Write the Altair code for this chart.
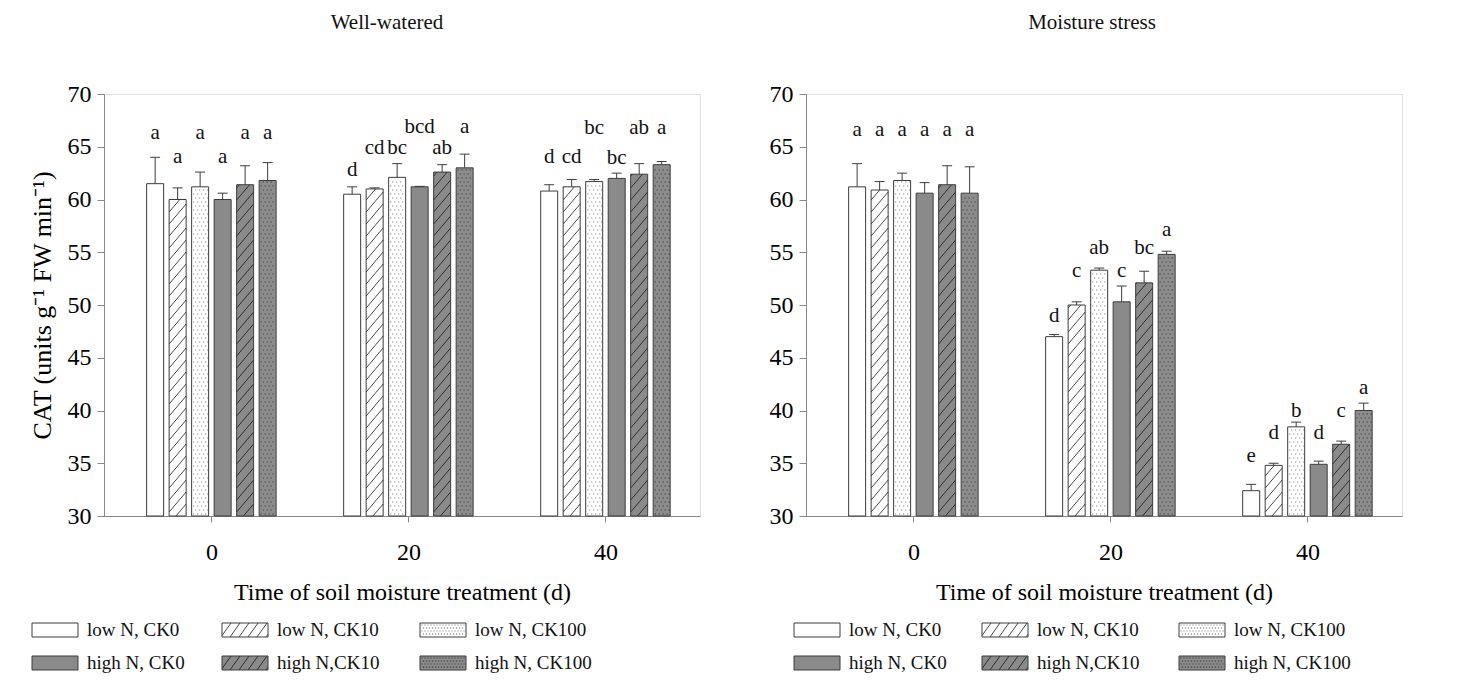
import altair as alt
import pandas as pd
import numpy as np

# ---------------- data ----------------
times = [0, 20, 40]
treatments = ["low N, CK0", "low N, CK10", "low N, CK100",
              "high N, CK0", "high N,CK10", "high N, CK100"]

# Well-watered: means and SE (upper error bar) per time
ww_mean_0 = [61.5, 60.0, 61.2, 60.0, 61.4, 61.8]
ww_se_0 = [2.5, 1.1, 1.4, 0.6, 1.8, 1.7]
ww_mean_20 = [60.5, 61.0, 62.1, 61.2, 62.6, 63.0]
ww_se_20 = [0.7, 0.1, 1.3, 0.05, 0.7, 1.3]
ww_mean_40 = [60.8, 61.2, 61.7, 62.0, 62.4, 63.3]
ww_se_40 = [0.6, 0.7, 0.2, 0.5, 1.0, 0.3]
ww_letters = [["a", "a", "a", "a", "a", "a"],
              ["d", "cd", "bc", "bcd", "ab", "a"],
              ["d", "cd", "bc", "bc", "ab", "a"]]
ww_letter_y = [[65.7, 63.5, 65.7, 63.5, 65.7, 65.7],
               [62.2, 64.3, 64.3, 66.3, 64.3, 66.3],
               [63.5, 63.5, 66.2, 63.4, 66.2, 66.2]]

# Moisture stress
ms_mean_0 = [61.2, 60.9, 61.8, 60.6, 61.4, 60.6]
ms_se_0 = [2.2, 0.8, 0.7, 1.0, 1.8, 2.5]
ms_mean_20 = [47.0, 50.0, 53.3, 50.3, 52.1, 54.8]
ms_se_20 = [0.2, 0.3, 0.2, 1.5, 1.1, 0.3]
ms_mean_40 = [32.4, 34.8, 38.45, 34.9, 36.8, 40.0]
ms_se_40 = [0.6, 0.2, 0.45, 0.3, 0.3, 0.7]
ms_letters = [["a", "a", "a", "a", "a", "a"],
              ["d", "c", "ab", "c", "bc", "a"],
              ["e", "d", "b", "d", "c", "a"]]
ms_letter_y = [[66.0] * 6,
               [48.4, 52.7, 54.8, 52.7, 54.8, 56.5],
               [35.1, 37.3, 39.4, 37.3, 39.4, 41.6]]

# ---------------- layout / style ----------------
W, H = 596, 422
XMIN, XMAX = -10.9, 49.6
YMIN, YMAX = 30, 70
PX_X = W / (XMAX - XMIN)
PX_Y = H / (YMAX - YMIN)
PITCH = 22.5 / PX_X          # distance between bars inside a group (data units)
HALF = 8.5 / PX_X            # half bar width (data units)
FONT = "Liberation Serif"
DARK = "#3c3c3c"
GRAY = "#8a8a8a"
GRAY2 = "#8c8c8c"
fills = ["#ffffff", "#ffffff", "#ffffff", GRAY, GRAY, GRAY2]
pattern = ["none", "hatch", "dots", "none", "hatch", "dots"]
pat_color = [None, "#4a4a4a", "#8a8a8a", None, "#2e2e2e", "#3a3a3a"]


def build(means, ses, letters, letter_y):
    rows = []
    for g, t in enumerate(times):
        for i, tr in enumerate(treatments):
            xc = t + (i - 2.5) * PITCH
            rows.append(dict(time=t, idx=i, treatment=tr, mean=means[g][i],
                             top=means[g][i] + ses[g][i], xc=xc,
                             xl=xc - HALF, xr=xc + HALF, base=YMIN,
                             letter=letters[g][i], ly=letter_y[g][i]))
    return pd.DataFrame(rows)


def hatch_rows(df):
    out = []
    rise = 20 / PX_Y
    step = 12 / PX_Y
    for _, r in df.iterrows():
        if pattern[r.idx] != "hatch":
            continue
        y0 = YMIN - rise
        while y0 < r["mean"]:
            tl = max(0.0, (YMIN - y0) / rise)
            th = min(1.0, (r["mean"] - y0) / rise)
            if th > tl:
                out.append(dict(x=r.xl + tl * (r.xr - r.xl), x2=r.xl + th * (r.xr - r.xl),
                                y=y0 + tl * rise, y2=y0 + th * rise, c=pat_color[r.idx]))
            y0 += step
    return pd.DataFrame(out)


def dot_rows(df):
    out = []
    dy = 4 / PX_Y
    dx = 4 / PX_X
    for _, r in df.iterrows():
        if pattern[r.idx] != "dots":
            continue
        y = YMIN + dy / 2
        k = 0
        while y < r["mean"] - dy / 3:
            off = (dx / 2) if k % 2 else 0
            x = r.xl + dx / 2 + off
            while x < r.xr - dx / 4:
                out.append(dict(x=x, y=y, c=pat_color[r.idx]))
                x += dx
            y += dy
            k += 1
    return pd.DataFrame(out)


def legend_layers(x0s, y0s, tx_off):
    # legend items placed in pixel space (scale=None), two rows of three
    items, lh, ld = [], [], []
    sw, sh = 46, 14
    for i, tr in enumerate(treatments):
        col, row = i % 3, i // 3
        x0, y0 = x0s[col], y0s[row]
        items.append(dict(x=x0, x2=x0 + sw, y=y0 - sh / 2, y2=y0 + sh / 2,
                          f=fills[i], tx=x0 + sw + tx_off, label=tr))
        if pattern[i] == "hatch":
            run = 10
            xs = x0 - run
            while xs < x0 + sw:
                tl = max(0.0, (x0 - xs) / run)
                th = min(1.0, (x0 + sw - xs) / run)
                if th > tl:
                    lh.append(dict(x=xs + tl * run, x2=xs + th * run,
                                   y=y0 + sh / 2 - tl * sh, y2=y0 + sh / 2 - th * sh,
                                   c=pat_color[i]))
                xs += 9
        if pattern[i] == "dots":
            yy = y0 - sh / 2 + 2
            k = 0
            while yy < y0 + sh / 2 - 1:
                xx = x0 + 2 + (1.5 if k % 2 else 0)
                while xx < x0 + sw - 1:
                    ld.append(dict(x=xx, y=yy, c=pat_color[i]))
                    xx += 3
                yy += 3
                k += 1
    it = pd.DataFrame(items)
    base = alt.Chart(it)
    fill_l = base.mark_rect(stroke=None).encode(
        x=alt.X("x:Q", scale=None, axis=None), x2="x2:Q",
        y=alt.Y("y:Q", scale=None, axis=None), y2="y2:Q",
        fill=alt.Fill("f:N", scale=None))
    hl = alt.Chart(pd.DataFrame(lh)).mark_rule(strokeWidth=1).encode(
        x=alt.X("x:Q", scale=None, axis=None), x2="x2:Q",
        y=alt.Y("y:Q", scale=None, axis=None), y2="y2:Q",
        color=alt.Color("c:N", scale=None))
    dl = alt.Chart(pd.DataFrame(ld)).mark_square(size=1.5, opacity=1).encode(
        x=alt.X("x:Q", scale=None, axis=None),
        y=alt.Y("y:Q", scale=None, axis=None),
        color=alt.Color("c:N", scale=None))
    outline = base.mark_rect(fill=None, stroke=DARK, strokeWidth=1).encode(
        x=alt.X("x:Q", scale=None, axis=None), x2="x2:Q",
        y=alt.Y("y:Q", scale=None, axis=None), y2="y2:Q")
    txt = base.mark_text(align="left", baseline="middle", font=FONT, fontSize=19,
                         color="#111").encode(
        x=alt.X("tx:Q", scale=None, axis=None),
        y=alt.Y("y:Q", scale=None, axis=None),
        yOffset=alt.value(7), text="label:N")
    return alt.layer(fill_l, hl, dl, outline, txt)


def panel(df, title, ytitle, leg_x, title_dx):
    xs = alt.Scale(domain=[XMIN, XMAX], nice=False, zero=False)
    ys = alt.Scale(domain=[YMIN, YMAX], nice=False, zero=False)
    xaxis = alt.Axis(values=times, grid=False, tickSize=6, labelFontSize=24,
                     titleFontSize=24, labelPadding=18, titlePadding=16,
                     titleFontWeight="normal", labelFont=FONT, titleFont=FONT,
                     title="Time of soil moisture treatment (d)", format="d")
    yaxis = alt.Axis(values=list(range(30, 71, 5)), grid=False, tickSize=7,
                     labelFontSize=24, titleFontSize=26, labelPadding=6,
                     titleFontWeight="normal", labelFont=FONT, titleFont=FONT,
                     titlePadding=12, title=ytitle if ytitle else None)
    base = alt.Chart(df)
    bars = base.mark_rect(stroke=None).encode(
        x=alt.X("xl:Q", scale=xs, axis=xaxis), x2="xr:Q",
        y=alt.Y("base:Q", scale=ys, axis=yaxis), y2="mean:Q",
        fill=alt.Fill("treatment:N", scale=alt.Scale(domain=treatments, range=fills),
                      legend=None))
    hatch = alt.Chart(hatch_rows(df)).mark_rule(strokeWidth=1).encode(
        x=alt.X("x:Q", scale=xs), x2="x2:Q",
        y=alt.Y("y:Q", scale=ys), y2="y2:Q",
        color=alt.Color("c:N", scale=None))
    dots = alt.Chart(dot_rows(df)).mark_square(size=1.5, opacity=1).encode(
        x=alt.X("x:Q", scale=xs), y=alt.Y("y:Q", scale=ys),
        color=alt.Color("c:N", scale=None))
    outline = base.mark_rect(fill=None, stroke=DARK, strokeWidth=1).encode(
        x=alt.X("xl:Q", scale=xs), x2="xr:Q",
        y=alt.Y("base:Q", scale=ys), y2="mean:Q")
    err = base.mark_rule(color=DARK, strokeWidth=1).encode(
        x=alt.X("xc:Q", scale=xs), y=alt.Y("mean:Q", scale=ys), y2="top:Q")
    cap = base.mark_tick(orient="horizontal", size=10, thickness=1, color=DARK,
                         opacity=1).encode(
        x=alt.X("xc:Q", scale=xs), y=alt.Y("top:Q", scale=ys))
    letters = base.mark_text(font=FONT, fontSize=21, baseline="alphabetic",
                             color="#111").encode(
        x=alt.X("xc:Q", scale=xs), y=alt.Y("ly:Q", scale=ys), text="letter:N")
    data_layer = alt.layer(bars, hatch, dots, outline, err, cap, letters)
    leg = legend_layers(leg_x, [536, 569], 9)
    return alt.layer(data_layer, leg).resolve_scale(
        x="independent", y="independent", color="independent", fill="independent"
    ).properties(
        width=W, height=H,
        title=alt.TitleParams(title, fontSize=21, font=FONT, fontWeight="normal",
                              offset=49, dx=title_dx, color="#111"))


ww = build([ww_mean_0, ww_mean_20, ww_mean_40], [ww_se_0, ww_se_20, ww_se_40],
           ww_letters, ww_letter_y)
ms = build([ms_mean_0, ms_mean_20, ms_mean_40], [ms_se_0, ms_se_20, ms_se_40],
           ms_letters, ms_letter_y)

left = panel(ww, "Well-watered", "CAT (units g\u207b\u00b9 FW min\u207b\u00b9)",
             [-72, 118, 316], -15)
right = panel(ms, "Moisture stress", None, [-12, 176, 373], -12)

chart = alt.hconcat(left, right, spacing=67).properties(
    padding={"left": 28, "top": 11, "right": 5, "bottom": 5}
).configure_view(stroke=None).configure_axis(
    labelFont=FONT, titleFont=FONT, domainColor="#555", tickColor="#555",
    labelColor="#111", titleColor="#111", titleFontWeight="normal", domainWidth=1.2
).configure(font=FONT)

chart.save("out.html", embed_options={"renderer": "svg", "actions": False})
